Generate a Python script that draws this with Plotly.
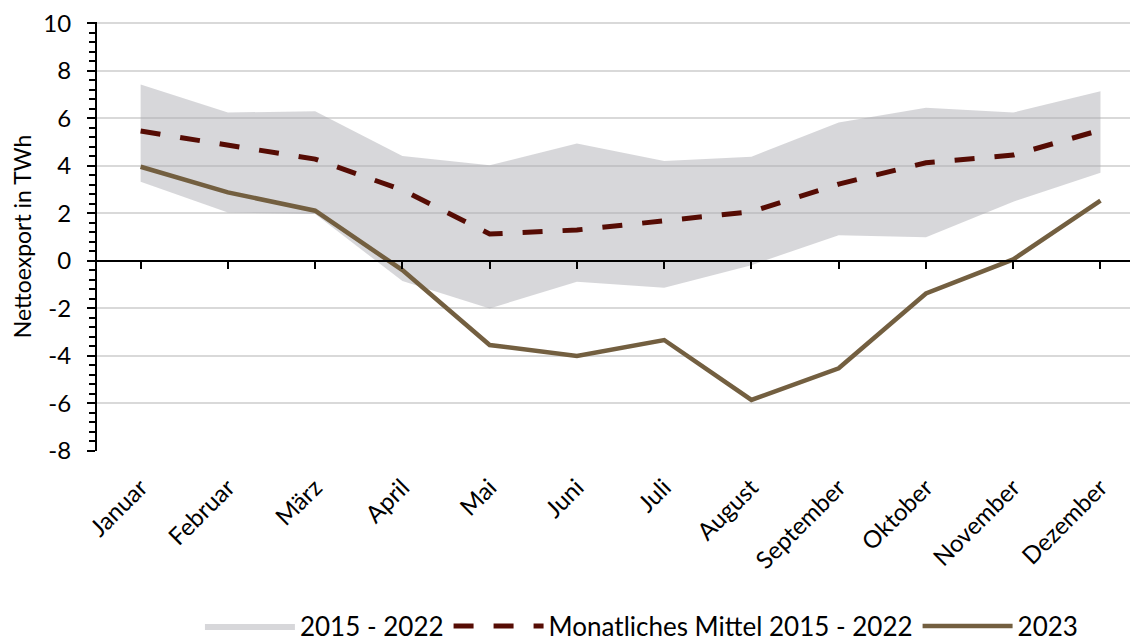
import plotly.graph_objects as go

months = ["Januar", "Februar", "März", "April", "Mai", "Juni", "Juli",
          "August", "September", "Oktober", "November", "Dezember"]
band_upper = [7.42, 6.24, 6.30, 4.41, 4.02, 4.94, 4.20, 4.38, 5.82, 6.44, 6.24, 7.14]
band_lower = [3.33, 2.04, 1.97, -0.85, -2.00, -0.88, -1.13, -0.18, 1.08, 0.99, 2.49, 3.71]
mean_2015_2022 = [5.46, 4.87, 4.28, 2.98, 1.13, 1.30, 1.69, 2.07, 3.23, 4.13, 4.45, 5.50]
values_2023 = [3.96, 2.88, 2.11, -0.39, -3.54, -4.00, -3.33, -5.85, -4.52, -1.37, 0.06, 2.53]
y_ticks = [-8, -6, -4, -2, 0, 2, 4, 6, 8, 10]

FONT = "Lato"
W, H = 1138, 643
ml, mr, mt, mb = 89, 8, 14, 200
ymin, ymax = -8, 10

fig = go.Figure()
fig.add_trace(go.Scatter(x=months, y=band_lower, mode="lines", line=dict(width=0),
                         showlegend=False, hoverinfo="skip"))
fig.add_trace(go.Scatter(x=months, y=band_upper, mode="lines", line=dict(width=0),
                         fill="tonexty", fillcolor="rgba(172,172,178,0.48)",
                         name="2015 - 2022"))
fig.add_trace(go.Scatter(x=months, y=mean_2015_2022, mode="lines",
                         line=dict(color="#560c04", width=5, dash="20px,20px"),
                         name="Monatliches Mittel 2015 - 2022"))
fig.add_trace(go.Scatter(x=months, y=values_2023, mode="lines",
                         line=dict(color="#735f40", width=4.5),
                         name="2023"))
# invisible trace for the zero-position axis
fig.add_trace(go.Scatter(x=months, y=[0]*12, xaxis="x2", mode="lines",
                         line=dict(width=0), showlegend=False, hoverinfo="skip"))

yr = [ymin, ymax + 0.05]
zero_pos = (0 - yr[0]) / (yr[1] - yr[0])

fig.update_layout(
    width=W, height=H,
    margin=dict(l=ml, r=mr, t=mt, b=mb, autoexpand=False),
    paper_bgcolor="white", plot_bgcolor="white",
    font=dict(family=FONT, size=22, color="#000000"),
    xaxis=dict(type="category", categoryarray=months, range=[-0.5, 11.43],
               showgrid=False, showline=False, zeroline=False, automargin=False,
               ticks="outside", ticklen=12, tickcolor="rgba(0,0,0,0)",
               tickangle=-45, tickfont=dict(size=24)),
    xaxis2=dict(type="category", categoryarray=months, range=[-0.5, 11.43],
                overlaying="x", anchor="free", position=zero_pos, automargin=False,
                showline=True, linecolor="black", linewidth=2,
                ticks="outside", ticklen=7, tickwidth=2, tickcolor="black",
                showticklabels=False, showgrid=False, zeroline=False),
    yaxis=dict(range=yr, tickvals=y_ticks, ticktext=[str(v) for v in y_ticks],
               showgrid=True, gridcolor="#d9d9d9", gridwidth=2, automargin=False,
               zeroline=False, showline=True, linecolor="black", linewidth=2,
               ticks="outside", ticklen=8, tickwidth=2, tickcolor="black",
               ticklabelstandoff=11, tickfont=dict(size=24), ticklabeloverflow="allow",
               minor=dict(dtick=0.4, tick0=0, ticks="outside", ticklen=6,
                          tickwidth=2, tickcolor="black", showgrid=False),
               title=dict(text="Nettoexport in TWh", font=dict(size=23), standoff=11)),
    legend=dict(orientation="h", x=0.523, xanchor="center", y=-0.408, yanchor="middle",
                font=dict(size=26), itemwidth=90, traceorder="normal",
                bgcolor="rgba(0,0,0,0)"),
    showlegend=True,
)

fig.write_html("out.html")
